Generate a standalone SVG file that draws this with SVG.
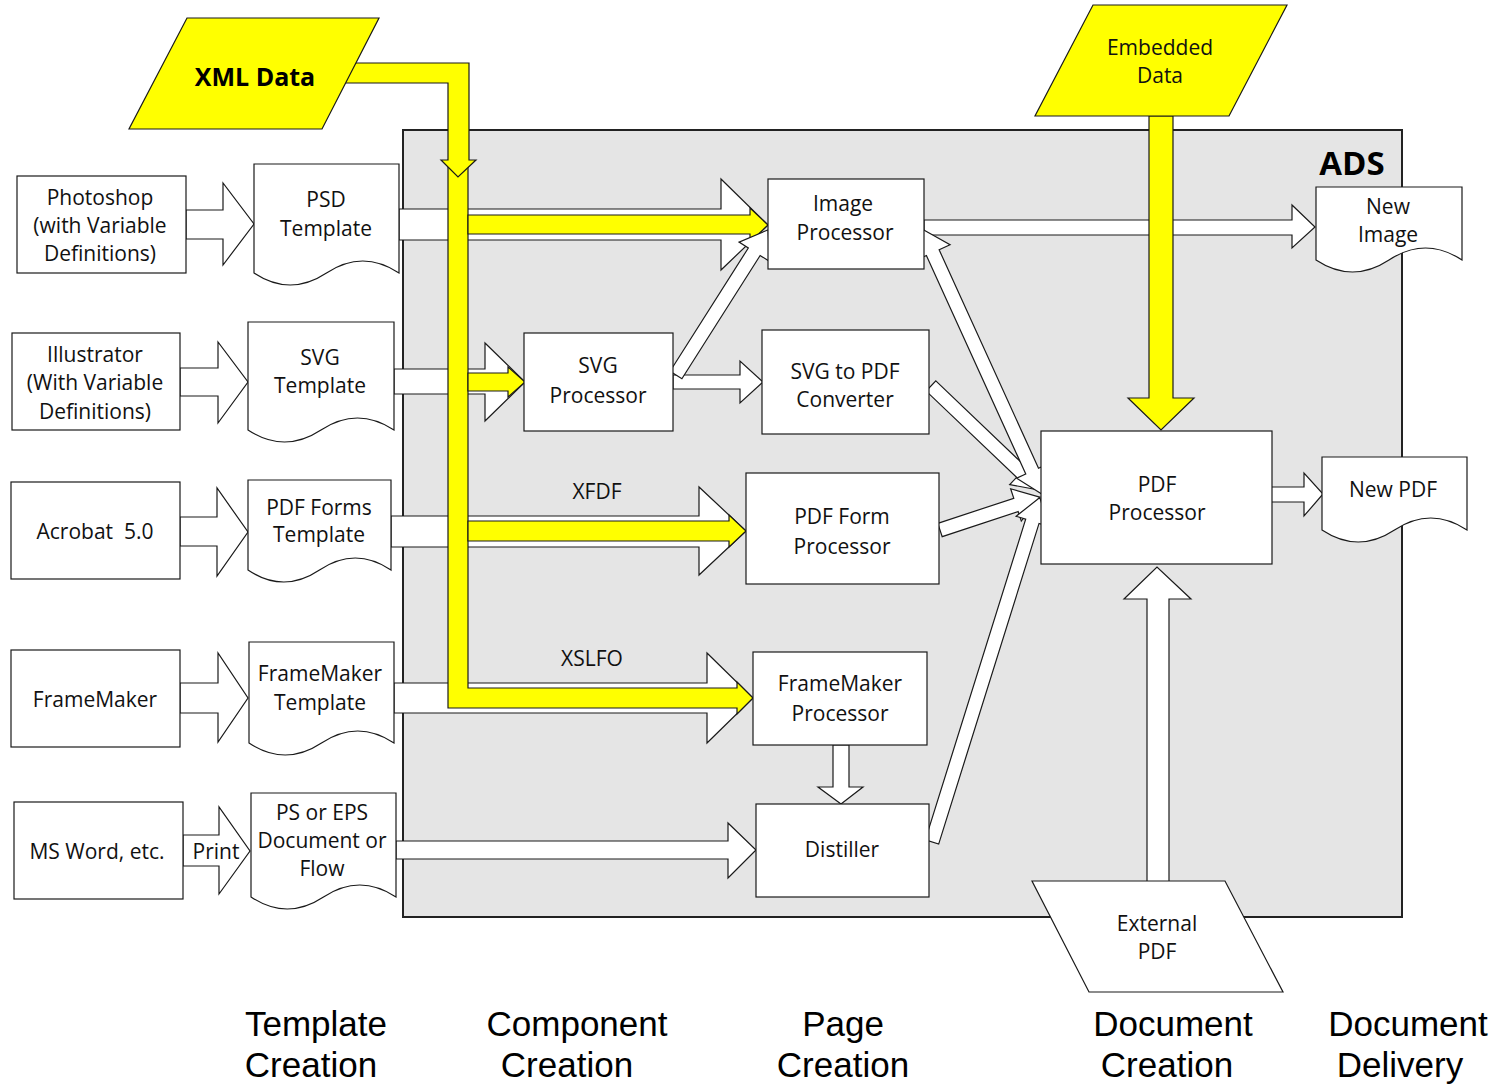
<svg xmlns="http://www.w3.org/2000/svg" width="1505" height="1085" viewBox="0 0 1505 1085">
<style>
.bx{fill:#fff;stroke:#1a1a1a;stroke-width:1.2}
.w{fill:#fff;stroke:#1a1a1a;stroke-width:1.2;stroke-linejoin:miter}
.y{fill:#ffff00;stroke:#1a1a1a;stroke-width:1.2}
.t{font-family:"Open Sans","Liberation Sans",sans-serif;font-size:21px;text-anchor:middle;fill:#111}
.b{font-family:"Open Sans","Liberation Sans",sans-serif;font-weight:bold;text-anchor:middle;fill:#000}
.L{font-family:"Liberation Sans","Open Sans",sans-serif;font-size:35px;text-anchor:middle;fill:#000}
</style>
<rect width="1505" height="1085" fill="#fff"/>
<g id="ads">
<rect x="403" y="130" width="999" height="787" fill="#e5e5e5" stroke="#222" stroke-width="2"/>
<text class="b" x="1352" y="175" font-size="33">ADS</text>
</g>
<g id="connectors">
<polygon class="w" points="186,210 223,210 223,183 254,224 223,265 223,239 186,239"/>
<polygon class="w" points="180,368 218,368 218,342 248,382 218,423 218,396 180,396"/>
<polygon class="w" points="180,517 217,517 217,488 248,532 217,576 217,546 180,546"/>
<polygon class="w" points="180,683 218,683 218,653 248,698 218,742 218,713 180,713"/>
<polygon class="w" points="183,835 219,835 219,807 250,851 219,894 219,866 183,866"/>
<text class="t" x="216" y="859">Print</text>
<polygon class="w" points="399,209 721,209 721,179 768,225 721,270 721,240 399,240"/>
<polygon class="w" points="394,369 485,369 485,343 525,382 485,421 485,394 394,394"/>
<polygon class="w" points="391,516 699,516 699,487 746,531 699,575 699,547 391,547"/>
<polygon class="w" points="394,683 707,683 707,653 753,698 707,743 707,713 394,713"/>
<polygon class="w" points="396,841 728,841 728,823 756,850 728,878 728,859 396,859"/>
<polygon class="w" points="673,375 740,375 740,361 763,382 740,403 740,389 673,389"/>
<polygon class="w" points="924,220 1292,220 1292,205 1315,227 1292,248 1292,235 924,235"/>
<polygon class="w" points="833,745 833,787 818,787 841,804 863,787 849,787 849,745"/>
<polygon class="w" points="1271,487 1304,487 1304,473 1323,494 1304,516 1304,502 1271,502" stroke-width="2"/>
<polygon class="w" points="1147,882 1147,599 1124,599 1157,567 1191,599 1169,599 1169,882"/>
<polygon class="y" points="448,160 468,160 468,688 737,688 737,682 753,698 737,714 737,708 448,708"/>
<polygon class="y" points="340,63 469,63 469,160 476,160 458,177 441,160 448,160 448,83 340,83"/>
<polygon class="y" points="468,215 750,215 750,208 768,225 750,242 750,234 468,234"/>
<polygon class="y" points="468,373 508,373 508,367 525,382 508,397 508,391 468,391"/>
<polygon class="y" points="468,521 729,521 729,515 746,531 729,547 729,541 468,541"/>
<polygon class="y" points="1149,116 1149,398 1128,398 1161,430 1194,398 1173,398 1173,116"/>
<text class="t" x="597" y="499">XFDF</text>
<text class="t" x="592" y="666">XSLFO</text>
<polygon class="w" transform="translate(676,375) rotate(-57.6)" points="0,-7 146,-7 146,-18 172,0 146,18 146,7 0,7"/>
<polygon class="w" transform="translate(931,386) rotate(43.66)" points="0,-7 125,-7 125,-17 151,0 125,17 125,7 0,7"/>
<polygon class="w" transform="translate(940,530) rotate(-18.26)" points="0,-7 80,-7 80,-17 105,0 80,17 80,7 0,7"/>
<polygon class="w" transform="translate(932,842) rotate(-72.62)" points="0,-7 336,-7 336,-17 361,0 336,17 336,7 0,7"/>
<polygon class="w" transform="translate(922,229) rotate(65.54)" points="0,0 26,-19 26,-7 266,-7 266,-17 292,0 266,17 266,7 26,7 26,19"/>
</g>
<g id="xml-data"><polygon class="y" points="187,18 379,18 322,129 129,129"/><text class="b" x="255" y="86" font-size="25">XML Data</text></g>
<g id="embedded-data"><polygon class="y" points="1093,5 1287,5 1229,116 1035,116"/><text class="t" x="1160" y="55">Embedded</text><text class="t" x="1160" y="83">Data</text></g>
<g id="external-pdf"><polygon class="bx" points="1032,881 1225,881 1283,992 1089,992"/><text class="t" x="1157" y="931">External</text><text class="t" x="1157" y="959">PDF</text></g>
<g id="photoshop"><rect class="bx" x="17" y="176" width="169" height="97"/><text class="t" x="100" y="205">Photoshop</text><text class="t" x="100" y="233">(with Variable</text><text class="t" x="100" y="261">Definitions)</text></g>
<g id="illustrator"><rect class="bx" x="12" y="333" width="168" height="97"/><text class="t" x="95" y="362">Illustrator</text><text class="t" x="95" y="390">(With Variable</text><text class="t" x="95" y="419">Definitions)</text></g>
<g id="acrobat"><rect class="bx" x="11" y="482" width="169" height="97"/><text class="t" x="95" y="539" xml:space="preserve">Acrobat  5.0</text></g>
<g id="framemaker"><rect class="bx" x="11" y="650" width="169" height="97"/><text class="t" x="95" y="707">FrameMaker</text></g>
<g id="msword"><rect class="bx" x="14" y="802" width="169" height="97"/><text class="t" x="97" y="859">MS Word, etc.</text></g>
<g id="psd-template"><path class="bx" d="M254,164 H399 V273 Q362.75,249 326.5,273 T254,273 Z"/><text class="t" x="326" y="207">PSD</text><text class="t" x="326" y="236">Template</text></g>
<g id="svg-template"><path class="bx" d="M248,322 H394 V430 Q357.5,406 321,430 T248,430 Z"/><text class="t" x="320" y="365">SVG</text><text class="t" x="320" y="393">Template</text></g>
<g id="pdf-forms-template"><path class="bx" d="M248,480 H391 V570 Q355.25,546 319.5,570 T248,570 Z"/><text class="t" x="319" y="515">PDF Forms</text><text class="t" x="319" y="542">Template</text></g>
<g id="framemaker-template"><path class="bx" d="M249,642 H394 V743 Q357.75,719 321.5,743 T249,743 Z"/><text class="t" x="320" y="681">FrameMaker</text><text class="t" x="320" y="710">Template</text></g>
<g id="ps-document"><path class="bx" d="M251,793 H396 V897 Q359.75,873 323.5,897 T251,897 Z"/><text class="t" x="322" y="820">PS or EPS</text><text class="t" x="322" y="848">Document or</text><text class="t" x="322" y="876">Flow</text></g>
<g id="image-processor"><rect class="bx" x="768" y="179" width="156" height="90"/><text class="t" x="843" y="211">Image</text><text class="t" x="845" y="240">Processor</text></g>
<g id="svg-processor"><rect class="bx" x="524" y="333" width="149" height="98"/><text class="t" x="598" y="373">SVG</text><text class="t" x="598" y="403">Processor</text></g>
<g id="svg-to-pdf"><rect class="bx" x="762" y="330" width="167" height="104"/><text class="t" x="845" y="379">SVG to PDF</text><text class="t" x="845" y="407">Converter</text></g>
<g id="pdf-form-processor"><rect class="bx" x="746" y="473" width="193" height="111"/><text class="t" x="842" y="524">PDF Form</text><text class="t" x="842" y="554">Processor</text></g>
<g id="framemaker-processor"><rect class="bx" x="753" y="652" width="174" height="93"/><text class="t" x="840" y="691">FrameMaker</text><text class="t" x="840" y="721">Processor</text></g>
<g id="distiller"><rect class="bx" x="756" y="804" width="173" height="93"/><text class="t" x="842" y="857">Distiller</text></g>
<g id="pdf-processor"><rect class="bx" x="1041" y="431" width="231" height="133"/><text class="t" x="1157" y="492">PDF</text><text class="t" x="1157" y="520">Processor</text></g>
<g id="new-image"><path class="bx" d="M1316,187 H1462 V260 Q1425.5,236 1389,260 T1316,260 Z"/><text class="t" x="1388" y="214">New</text><text class="t" x="1388" y="242">Image</text></g>
<g id="new-pdf"><path class="bx" d="M1322,457 H1467 V530 Q1430.75,506 1394.5,530 T1322,530 Z"/><text class="t" x="1393" y="497">New PDF</text></g>
<g id="stage-labels">
<text class="L" x="316" y="1036">Template</text><text class="L" x="311" y="1077">Creation</text>
<text class="L" x="577" y="1036">Component</text><text class="L" x="567" y="1077">Creation</text>
<text class="L" x="843" y="1036">Page</text><text class="L" x="843" y="1077">Creation</text>
<text class="L" x="1173" y="1036">Document</text><text class="L" x="1167" y="1077">Creation</text>
<text class="L" x="1408" y="1036">Document</text><text class="L" x="1400" y="1077">Delivery</text>
</g>
</svg>
